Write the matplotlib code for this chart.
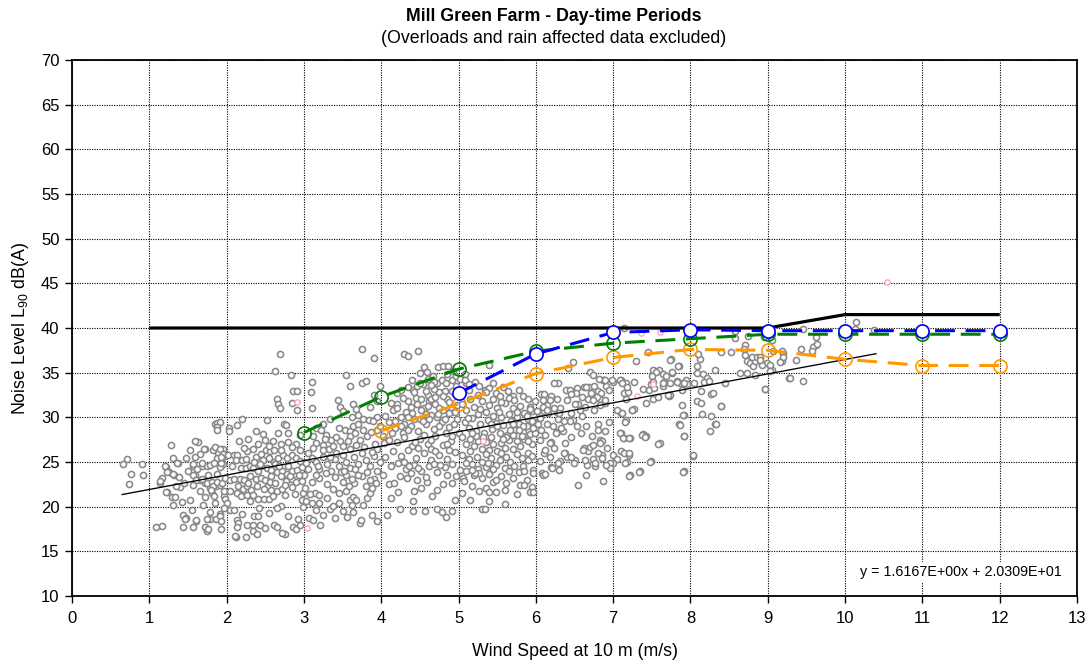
import matplotlib
matplotlib.use("Agg")
import matplotlib.pyplot as plt
import numpy as np

plt.rcParams["font.family"] = ["Liberation Sans", "DejaVu Sans"]
plt.rcParams["mathtext.fontset"] = "custom"
plt.rcParams["mathtext.rm"] = "Liberation Sans"
plt.rcParams["mathtext.it"] = "Liberation Sans:italic"

pts_0_2 = [
    (0.66, 24.8), (0.71, 25.3), (0.76, 23.7), (0.91, 24.8), (0.92, 23.5), (0.74, 22.5),
    (1.09, 17.7), (1.16, 17.8), (1.14, 22.7), (1.16, 23.2), (1.21, 24.4), (1.26, 23.9),
    (1.32, 23.5), (1.39, 23.3), (1.28, 26.9), (1.31, 25.5), (1.37, 24.9), (1.23, 21.6),
    (1.29, 21.1), (1.31, 20.2), (1.44, 19.1), (1.47, 18.7), (1.44, 17.7), (1.57, 17.7),
    (1.61, 18.4), (1.53, 26.3), (1.63, 27.2), (1.57, 24.6), (1.59, 23.6), (1.66, 23.0),
    (1.68, 24.5), (1.66, 25.9), (1.72, 26.5), (1.74, 24.5), (1.78, 24.7), (1.87, 26.5),
    (1.95, 26.5), (1.89, 26.0), (1.95, 25.6), (1.87, 25.4), (1.95, 24.8), (1.91, 24.4),
    (1.72, 22.6), (1.78, 22.1), (1.81, 21.5), (1.86, 22.3), (1.91, 22.4), (1.96, 21.2),
    (1.72, 17.7), (1.74, 17.3), (1.78, 19.4), (1.79, 18.6), (1.86, 18.6), (1.91, 19.2),
    (1.85, 29.3), (1.88, 29.4), (1.92, 29.5), (1.87, 28.9), (1.88, 28.6), (1.20, 24.5),
    (1.14, 22.9), (1.23, 23.9), (1.31, 23.7), (1.36, 24.9), (1.59, 27.3), (1.71, 26.5),
    (1.59, 25.6), (1.56, 24.8), (1.68, 24.9), (1.84, 24.9), (1.93, 24.9), (1.83, 26.3),
    (1.85, 26.7), (1.91, 26.5), (1.95, 25.9), (1.93, 25.6), (1.57, 23.5), (1.61, 23.0),
    (1.68, 23.1), (1.57, 22.4), (1.74, 22.7), (1.81, 22.8), (1.83, 22.3), (1.87, 22.8),
    (1.94, 22.6), (1.98, 23.2), (1.22, 21.6), (1.33, 21.1), (1.40, 22.2), (1.72, 21.1),
    (1.80, 21.9), (1.84, 21.2), (1.96, 21.7), (1.98, 20.9), (1.46, 18.6), (1.61, 18.5),
    (1.74, 18.6), (1.76, 17.5), (1.91, 19.0), (1.93, 18.4), (1.93, 17.5), (1.50, 24.0),
    (1.45, 22.6), (1.65, 21.8), (1.52, 20.8), (1.35, 22.3), (1.48, 25.4), (1.62, 24.2),
    (1.76, 23.6), (1.88, 23.7), (1.70, 20.2), (1.55, 19.6), (1.85, 20.4), (1.42, 20.5),
]
pts_2_3 = [
    (2.69, 37.1), (2.63, 35.2), (2.83, 34.7), (2.86, 33.0), (2.91, 33.0), (2.65, 32.0),
    (2.67, 31.5), (2.69, 31.0), (2.84, 31.6), (2.91, 30.8), (2.74, 29.3), (2.77, 29.1),
    (2.52, 29.7), (2.38, 28.5), (2.47, 28.1), (2.20, 29.8), (2.14, 29.1), (2.03, 28.8),
    (2.03, 28.5), (2.02, 25.8), (2.09, 25.8), (2.14, 25.8), (2.12, 25.2), (2.20, 25.2),
    (2.25, 25.3), (2.19, 24.3), (2.25, 24.3), (2.30, 24.5), (2.34, 24.3), (2.05, 23.0),
    (2.10, 23.1), (2.17, 23.1), (2.22, 23.0), (2.30, 23.4), (2.38, 23.1), (2.44, 23.2),
    (2.15, 22.3), (2.21, 22.0), (2.26, 22.3), (2.32, 21.9), (2.39, 22.3), (2.14, 21.5),
    (2.19, 21.2), (2.26, 21.3), (2.34, 21.3), (2.41, 20.9), (2.48, 20.9), (2.55, 20.9),
    (2.26, 26.2), (2.34, 26.4), (2.38, 25.6), (2.45, 25.9), (2.51, 26.3), (2.56, 26.2),
    (2.61, 26.3), (2.47, 25.2), (2.55, 25.5), (2.61, 25.0), (2.67, 25.4), (2.73, 25.8),
    (2.78, 25.5), (2.84, 25.8), (2.90, 25.5), (2.52, 24.3), (2.58, 24.1), (2.65, 23.9),
    (2.71, 24.0), (2.78, 23.7), (2.85, 24.0), (2.91, 24.1), (2.98, 24.4), (2.50, 23.0),
    (2.56, 22.8), (2.63, 22.7), (2.70, 23.4), (2.77, 22.9), (2.84, 23.1), (2.90, 22.8),
    (2.97, 22.9), (3.00, 23.5), (2.52, 22.2), (2.58, 21.9), (2.65, 21.8), (2.71, 22.0),
    (2.85, 22.2), (2.99, 21.5), (2.97, 20.7), (2.99, 20.0), (2.70, 20.1), (2.65, 19.8),
    (2.13, 18.5), (2.15, 18.2), (2.13, 17.7), (2.12, 16.6), (2.25, 16.6), (2.26, 17.9),
    (2.34, 17.9), (2.34, 17.3), (2.39, 16.9), (2.43, 17.9), (2.35, 19.0), (2.41, 19.0),
    (2.42, 19.8), (2.61, 18.0), (2.65, 17.7), (2.75, 16.9), (2.72, 17.1), (2.86, 17.7),
    (2.90, 17.5), (2.95, 17.9), (2.00, 20.4), (1.97, 19.8), (2.04, 19.6), (2.09, 19.6),
    (2.16, 27.3), (2.28, 27.6), (2.40, 27.0), (2.50, 27.5), (2.60, 27.4), (2.70, 27.0),
    (2.80, 27.2), (2.90, 27.0), (2.55, 26.8), (2.95, 26.3), (2.85, 26.7), (2.80, 28.3),
    (2.95, 28.0), (2.11, 16.7), (2.45, 24.6), (2.62, 24.8), (2.80, 24.6), (2.93, 23.5),
    (2.40, 24.0), (2.58, 23.4), (2.75, 22.4), (2.88, 21.4), (2.60, 21.2), (2.30, 20.6),
    (2.20, 19.2), (2.05, 21.8), (2.70, 26.3), (2.36, 25.0), (2.48, 22.0), (2.95, 25.1),
    (2.07, 24.6), (2.28, 22.7), (2.43, 24.8), (2.68, 24.6), (2.82, 23.4), (2.75, 21.3),
    (2.55, 19.3), (2.80, 19.0), (2.92, 18.6), (2.50, 17.6), (2.22, 26.6), (2.66, 28.3),
]
pts_3_4 = [
    (3.75, 37.6), (3.90, 36.6), (3.11, 34.0), (3.09, 32.8), (3.10, 31.0), (3.55, 34.7),
    (3.59, 33.5), (3.75, 33.8), (3.80, 34.1), (3.44, 31.9), (3.47, 31.2), (3.51, 30.7),
    (3.64, 31.5), (3.68, 30.9), (3.34, 29.8), (3.16, 28.8), (3.22, 28.6), (3.29, 28.0),
    (3.53, 28.6), (3.59, 28.5), (3.64, 29.0), (3.70, 29.2), (3.77, 29.8), (3.84, 29.7),
    (3.12, 27.9), (3.16, 27.1), (3.25, 26.9), (3.33, 26.4), (3.38, 26.8), (3.47, 27.3),
    (3.51, 26.8), (3.59, 27.9), (3.66, 28.2), (3.72, 27.5), (3.81, 27.9), (3.87, 28.4),
    (3.94, 28.6), (3.98, 29.0), (4.02, 27.9), (4.04, 27.1), (3.03, 24.9), (3.05, 24.2),
    (3.10, 22.8), (3.02, 22.1), (3.14, 21.5), (3.19, 21.3), (3.03, 20.6), (3.10, 20.4),
    (3.20, 20.4), (3.07, 18.7), (3.12, 18.5), (3.21, 17.9), (3.34, 19.7), (3.37, 20.1),
    (3.59, 20.7), (3.64, 21.1), (3.68, 20.8), (3.62, 20.2), (3.64, 19.4), (3.77, 20.2),
    (3.81, 21.0), (3.85, 21.5), (3.88, 22.1), (3.90, 23.1), (3.72, 18.2), (3.74, 18.5),
    (3.88, 19.1), (3.95, 18.4), (3.05, 26.0), (3.10, 25.5), (3.15, 25.0), (3.20, 24.2),
    (3.25, 25.6), (3.30, 24.8), (3.35, 24.0), (3.40, 25.3), (3.45, 24.5), (3.50, 25.8),
    (3.55, 25.0), (3.60, 24.3), (3.65, 25.6), (3.70, 24.8), (3.75, 26.0), (3.80, 25.2),
    (3.85, 24.5), (3.90, 25.7), (3.95, 26.4), (3.20, 23.2), (3.30, 22.5), (3.40, 23.3),
    (3.50, 22.8), (3.55, 23.6), (3.65, 22.6), (3.75, 23.4), (3.85, 23.0), (3.95, 24.0),
    (3.25, 26.3), (3.42, 26.0), (3.60, 26.5), (3.78, 26.7), (3.92, 27.0), (3.28, 23.8),
    (3.48, 23.9), (3.70, 23.5), (3.45, 21.5), (3.30, 21.0), (3.55, 21.8), (3.25, 19.1),
    (3.40, 18.7), (3.50, 19.5), (3.15, 23.5), (3.35, 27.5), (3.45, 28.8), (3.25, 29.3),
    (3.62, 30.0), (3.70, 30.3), (3.85, 31.2), (3.95, 30.0), (3.95, 31.8), (3.90, 32.5),
    (3.98, 33.5), (3.38, 22.0), (3.58, 22.3), (3.80, 22.3), (3.12, 26.6), (3.52, 24.0),
    (3.68, 26.9), (3.88, 26.1), (3.42, 27.8), (3.18, 24.6), (3.62, 23.1), (3.98, 25.0),
    (3.08, 21.4), (3.16, 19.6), (3.46, 20.4), (3.56, 18.8), (3.82, 23.9), (3.34, 25.6),
    (3.57, 27.3), (3.77, 28.6), (3.89, 29.6), (3.27, 27.6), (3.66, 24.2), (3.93, 22.6),
]
pts_4_5 = [
    (4.29, 37.1), (4.35, 36.9), (4.47, 37.4), (4.20, 32.7), (4.26, 33.1), (4.34, 33.4),
    (4.41, 33.1), (4.46, 33.5), (4.54, 33.7), (4.61, 34.3), (4.67, 34.6), (4.74, 35.6),
    (4.80, 35.8), (4.87, 35.8), (4.50, 35.0), (4.55, 35.6), (4.59, 35.1), (4.72, 33.8),
    (4.78, 34.2), (4.84, 33.8), (4.91, 34.2), (4.97, 33.5), (4.97, 34.6), (5.02, 34.3),
    (5.08, 34.8), (5.10, 33.8), (5.13, 33.1), (5.06, 32.7), (4.05, 30.2), (4.10, 29.5),
    (4.15, 30.8), (4.20, 31.5), (4.25, 30.0), (4.30, 29.2), (4.35, 31.8), (4.40, 30.5),
    (4.45, 32.2), (4.50, 29.8), (4.55, 31.0), (4.60, 32.5), (4.65, 30.3), (4.70, 31.5),
    (4.75, 32.8), (4.80, 30.8), (4.85, 32.0), (4.90, 31.2), (4.95, 32.6), (4.42, 32.8),
    (4.58, 33.0), (4.68, 33.2), (4.82, 33.0), (4.62, 31.8), (4.72, 30.0), (4.88, 30.5),
    (4.52, 30.8), (4.38, 31.2), (4.28, 32.2), (4.12, 31.6), (4.18, 28.8), (4.28, 28.2),
    (4.38, 29.0), (4.48, 28.5), (4.58, 29.2), (4.68, 28.7), (4.78, 29.5), (4.88, 28.9),
    (4.98, 29.8), (4.10, 27.5), (4.20, 27.2), (4.30, 27.8), (4.40, 26.8), (4.50, 27.6),
    (4.60, 27.0), (4.70, 27.9), (4.80, 26.9), (4.90, 27.4), (5.00, 28.2), (4.15, 26.2),
    (4.25, 25.7), (4.35, 26.3), (4.45, 25.4), (4.55, 26.0), (4.65, 25.2), (4.75, 25.8),
    (4.85, 25.3), (4.95, 26.1), (4.12, 24.6), (4.22, 24.9), (4.32, 24.2), (4.42, 24.7),
    (4.52, 24.0), (4.62, 24.5), (4.72, 23.9), (4.82, 24.4), (4.92, 24.8), (4.24, 23.4),
    (4.33, 23.2), (4.39, 23.8), (4.10, 22.5), (4.16, 22.6), (4.59, 22.8), (4.72, 21.9),
    (4.80, 22.5), (4.91, 22.6), (4.97, 23.4), (5.02, 24.1), (5.06, 23.2), (4.12, 21.0),
    (4.41, 20.6), (4.43, 21.7), (4.52, 22.1), (4.24, 19.7), (4.41, 19.5), (4.56, 19.5),
    (4.72, 19.7), (4.78, 19.4), (4.84, 18.8), (4.91, 19.5), (4.08, 19.1), (4.20, 31.0),
    (4.32, 30.6), (4.46, 31.5), (4.65, 32.0), (4.92, 33.0), (4.75, 31.0), (4.55, 28.0),
    (4.85, 27.0), (4.35, 28.6), (4.05, 25.6), (4.65, 26.5), (4.75, 29.0), (4.95, 30.6),
    (4.62, 29.8), (4.48, 26.6), (4.50, 33.8), (4.68, 34.0), (4.85, 34.8), (4.93, 35.2),
    (4.42, 29.8), (4.58, 30.4), (4.82, 29.8), (4.98, 31.4), (4.25, 29.0), (4.70, 26.2),
    (4.88, 26.3), (4.48, 24.3), (4.68, 24.8), (4.58, 23.3), (4.85, 23.5), (4.30, 25.0),
    (4.44, 27.2), (4.64, 27.5), (4.84, 28.2), (4.54, 29.6), (4.74, 30.4), (4.94, 29.2),
    (4.34, 30.0), (4.60, 31.3), (4.80, 32.4), (4.40, 34.2), (4.64, 33.6), (4.88, 31.7),
    (4.18, 29.6), (4.52, 32.0), (4.70, 32.3), (4.92, 27.9), (4.36, 24.6), (4.76, 24.7),
    (4.46, 23.0), (4.66, 21.2), (4.22, 21.6), (4.96, 20.7), (4.02, 23.6), (4.14, 28.3),
]
pts_5_6 = [
    (5.39, 35.9), (5.08, 34.2), (5.14, 33.7), (5.21, 34.0), (5.27, 33.5), (5.34, 33.1),
    (5.40, 33.3), (5.45, 33.8), (5.48, 32.7), (5.53, 32.4), (5.58, 33.4), (5.64, 32.9),
    (5.71, 32.4), (5.78, 33.1), (5.84, 32.4), (5.90, 32.0), (5.99, 31.8), (5.05, 31.5),
    (5.10, 30.8), (5.15, 32.0), (5.20, 31.2), (5.25, 30.4), (5.30, 31.8), (5.35, 30.6),
    (5.40, 31.4), (5.45, 30.2), (5.50, 31.0), (5.55, 30.0), (5.60, 31.6), (5.65, 30.4),
    (5.70, 31.1), (5.75, 30.0), (5.80, 31.3), (5.85, 30.5), (5.90, 29.8), (5.95, 30.7),
    (5.08, 29.5), (5.13, 28.8), (5.18, 29.9), (5.23, 28.5), (5.28, 29.3), (5.33, 28.2),
    (5.38, 29.7), (5.43, 28.7), (5.48, 29.4), (5.53, 28.3), (5.58, 29.1), (5.63, 28.0),
    (5.68, 29.6), (5.73, 28.6), (5.78, 29.2), (5.83, 28.4), (5.88, 29.0), (5.93, 28.1),
    (5.98, 29.5), (5.05, 27.8), (5.10, 27.0), (5.15, 27.6), (5.20, 26.8), (5.25, 27.4),
    (5.30, 26.5), (5.35, 27.2), (5.40, 26.3), (5.45, 27.0), (5.50, 26.2), (5.55, 27.1),
    (5.60, 26.6), (5.65, 27.5), (5.70, 26.4), (5.75, 27.3), (5.80, 26.8), (5.85, 27.6),
    (5.90, 26.0), (5.95, 27.0), (5.05, 25.8), (5.12, 25.3), (5.18, 24.8), (5.24, 25.6),
    (5.30, 25.0), (5.36, 24.4), (5.42, 25.5), (5.48, 24.7), (5.54, 25.2), (5.60, 24.3),
    (5.66, 25.0), (5.72, 24.5), (5.78, 23.9), (5.84, 24.6), (5.90, 25.2), (5.96, 24.1),
    (5.10, 24.0), (5.20, 23.5), (5.30, 23.2), (5.40, 23.7), (5.45, 22.8), (5.55, 23.4),
    (5.62, 22.6), (5.70, 23.2), (5.80, 22.4), (5.88, 23.0), (5.95, 22.2), (5.07, 22.9),
    (5.18, 22.3), (5.27, 21.8), (5.35, 22.1), (5.48, 21.6), (5.60, 21.9), (5.75, 21.4),
    (5.92, 21.6), (5.40, 20.6), (5.60, 20.3), (5.30, 19.7), (5.15, 20.8), (5.05, 21.5),
    (5.12, 29.9), (5.25, 32.5), (5.45, 32.0), (5.65, 32.2), (5.35, 32.8), (5.55, 31.7),
    (5.72, 31.9), (5.92, 31.2), (5.50, 29.0), (5.70, 28.0), (5.22, 27.9), (5.42, 27.8),
    (5.62, 27.8), (5.82, 27.9), (5.99, 28.3), (5.15, 26.2), (5.35, 25.9), (5.55, 26.0),
    (5.75, 25.9), (5.95, 25.7), (5.25, 24.2), (5.45, 24.2), (5.65, 24.0), (5.85, 24.0),
    (5.49, 23.0), (5.40, 21.6), (5.34, 19.7), (5.27, 23.8), (5.21, 23.8), (5.17, 24.1),
    (5.14, 25.3), (5.10, 24.9), (5.96, 23.8), (5.96, 21.6), (5.85, 22.4), (5.92, 30.9),
    (5.88, 30.1), (5.95, 29.6), (5.96, 28.8), (5.84, 29.0), (5.78, 28.6), (5.71, 29.2),
    (5.28, 30.9), (5.52, 30.6), (5.76, 30.6), (5.18, 28.2), (5.42, 29.2), (5.66, 28.6),
    (5.90, 27.4), (5.32, 27.8), (5.58, 27.6), (5.38, 24.9), (5.62, 25.6), (5.82, 25.4),
]
pts_6_7 = [
    (6.07, 32.6), (6.14, 32.2), (6.20, 32.4), (6.27, 32.0), (6.29, 33.8), (6.23, 33.8),
    (6.39, 33.1), (6.53, 33.3), (6.52, 32.7), (6.69, 33.4), (6.71, 32.7), (6.68, 32.0),
    (6.83, 32.0), (6.88, 34.2), (6.91, 33.5), (7.00, 34.0), (6.48, 36.2), (6.42, 35.5),
    (6.70, 35.1), (6.74, 34.7), (6.02, 30.7), (6.10, 30.7), (6.16, 30.5), (6.05, 29.9),
    (6.03, 29.2), (6.07, 28.6), (6.27, 30.6), (6.31, 31.0), (6.29, 29.8), (6.27, 28.4),
    (6.38, 27.1), (6.48, 29.7), (6.53, 29.0), (6.65, 29.0), (6.80, 29.3), (6.81, 28.6),
    (6.83, 27.5), (6.85, 27.3), (6.92, 26.6), (7.00, 25.8), (7.05, 25.3), (6.62, 26.6),
    (6.68, 26.2), (6.74, 25.3), (6.66, 24.7), (6.77, 24.5), (6.92, 24.7), (7.00, 24.9),
    (6.38, 26.0), (6.40, 25.6), (6.31, 25.1), (6.20, 24.4), (6.30, 24.1), (6.20, 27.2),
    (6.10, 26.0), (6.05, 25.1), (6.08, 23.8), (6.09, 23.5), (6.12, 28.0), (6.22, 29.0),
    (6.35, 28.5), (6.45, 30.5), (6.55, 31.5), (6.60, 30.2), (6.75, 30.8), (6.90, 31.6),
    (6.45, 27.8), (6.58, 28.2), (6.72, 27.9), (6.90, 28.5), (6.50, 25.2), (6.85, 25.8),
    (6.95, 29.5), (6.40, 31.9), (6.15, 31.4), (6.60, 32.3), (6.80, 33.0), (6.87, 34.2),
    (6.98, 34.2), (6.94, 33.1), (6.90, 31.9), (6.83, 31.4), (6.70, 26.7), (6.74, 26.9),
    (6.61, 26.3), (6.64, 25.2), (6.77, 24.9), (6.85, 25.4), (6.81, 26.0), (6.83, 27.1),
    (6.49, 24.9), (6.46, 25.6), (6.36, 26.0), (6.29, 24.9), (6.21, 24.3), (6.12, 23.7),
    (6.18, 27.1), (6.12, 26.3), (6.14, 29.3), (6.33, 28.8), (6.26, 28.2), (6.05, 27.5),
    (6.10, 32.6), (6.09, 31.9), (6.18, 31.9), (6.09, 31.2), (6.15, 30.8), (6.24, 31.0),
    (6.30, 30.5), (6.44, 33.1), (6.46, 32.6), (6.62, 33.4), (6.65, 33.4), (6.75, 33.5),
    (6.82, 34.3), (6.90, 34.2), (6.84, 32.7), (6.79, 32.3), (6.74, 31.9), (6.64, 31.2),
    (6.57, 30.8), (6.50, 31.5), (6.44, 29.6), (6.96, 24.9), (6.96, 24.3), (6.91, 24.7),
    (6.87, 22.9), (6.55, 22.4), (6.65, 23.6), (6.18, 25.6), (6.24, 26.6), (6.36, 29.6),
]
pts_7_plus = [
    (7.14, 40.0), (7.45, 37.3), (7.30, 36.3), (7.75, 36.5), (7.85, 35.7), (7.51, 35.3),
    (7.59, 35.3), (7.65, 34.8), (7.76, 35.0), (7.10, 34.2), (7.16, 33.8), (7.27, 34.0),
    (7.14, 32.7), (7.19, 32.8), (7.16, 32.0), (7.38, 33.2), (7.46, 33.1), (7.49, 33.7),
    (7.53, 33.3), (7.66, 34.0), (7.65, 33.5), (7.74, 33.8), (7.83, 34.1), (7.87, 33.8),
    (7.94, 34.2), (7.95, 33.7), (7.89, 33.1), (7.72, 32.4), (7.74, 32.5), (7.42, 31.6),
    (7.51, 32.0), (7.25, 30.8), (7.27, 30.9), (7.16, 29.7), (7.10, 30.5), (7.89, 31.4),
    (7.91, 30.3), (7.85, 29.2), (7.91, 27.9), (7.10, 28.2), (7.14, 27.7), (7.22, 27.7),
    (7.38, 28.1), (7.42, 27.9), (7.60, 27.1), (7.10, 26.2), (7.14, 26.0), (7.21, 25.8),
    (7.18, 25.0), (7.49, 25.1), (7.22, 23.5), (7.35, 24.0), (7.91, 24.0), (8.03, 25.7),
    (7.09, 34.2), (7.11, 33.8), (7.18, 33.4), (7.05, 30.8), (7.11, 30.5), (7.24, 30.8),
    (7.15, 29.5), (7.09, 28.2), (7.13, 27.7), (7.37, 28.0), (7.41, 27.8), (7.58, 27.0),
    (7.20, 27.7), (7.20, 26.0), (7.15, 24.9), (7.21, 23.4), (7.33, 23.9), (7.48, 25.0),
    (7.74, 36.4), (7.84, 35.7), (7.69, 34.6), (7.76, 35.1), (7.56, 35.1), (7.50, 34.6),
    (7.52, 34.0), (7.65, 33.8), (7.71, 32.5), (7.82, 34.0), (7.91, 33.8), (7.58, 32.3),
    (8.12, 36.5), (8.09, 35.7), (8.09, 35.0), (8.16, 34.8), (8.22, 34.4), (8.17, 33.9),
    (8.24, 34.1), (8.32, 35.3), (8.05, 33.8), (8.13, 32.9), (8.26, 32.6), (8.29, 32.7),
    (8.45, 33.8), (8.09, 31.8), (8.14, 31.6), (8.15, 30.4), (8.27, 30.1), (8.32, 29.3),
    (8.25, 28.5), (8.39, 31.3), (8.39, 37.3), (8.52, 37.3), (8.58, 39.7), (8.57, 38.9),
    (8.75, 39.1), (8.70, 38.1), (8.69, 37.6), (8.71, 37.0), (8.73, 36.3), (8.77, 36.1),
    (8.81, 35.7), (8.84, 36.3), (8.80, 36.8), (8.86, 36.8), (8.90, 36.8), (8.92, 36.0),
    (8.99, 36.1), (8.64, 35.0), (8.73, 35.0), (8.84, 34.7), (8.97, 33.2), (9.05, 35.3),
    (9.07, 37.4), (9.18, 36.3), (9.20, 37.2), (9.20, 36.8), (9.27, 34.4), (8.10, 37.1),
    (8.33, 29.3), (8.40, 31.3), (7.92, 27.9), (7.86, 29.1), (7.90, 30.3), (8.03, 25.8),
    (7.90, 23.9), (9.45, 39.9), (9.63, 39.0), (9.62, 38.1), (9.59, 37.9), (9.64, 38.2),
    (9.57, 37.4), (9.43, 37.6), (9.37, 36.4), (9.29, 34.4), (9.45, 34.1), (9.19, 37.4),
    (9.16, 36.2), (9.05, 38.7), (9.03, 35.9), (8.93, 35.9), (8.90, 36.4), (9.03, 35.2),
    (8.97, 33.2), (8.95, 39.0), (10.14, 40.7), (10.13, 39.9), (10.38, 39.8),
]
# a handful of points plotted in pink in the original
pts_pink = [(2.91, 31.7), (3.04, 17.6), (5.32, 27.3), (7.36, 39.4), (7.61, 39.5),
            (7.51, 33.7), (7.31, 32.4), (10.54, 45.1)]

# ---- criteria / limit curves ----
limit_ws = [1, 2, 3, 4, 5, 6, 7, 8, 9, 10, 11, 12]
limit_db = [40, 40, 40, 40, 40, 40, 40, 40, 40, 41.5, 41.5, 41.5]

blue_ws = [5, 6, 7, 8, 9, 10, 11, 12]
blue_db = [32.7, 37.1, 39.5, 39.8, 39.7, 39.7, 39.7, 39.7]

green_ws = [3, 4, 5, 6, 7, 8, 9, 10, 11, 12]
green_db = [28.3, 32.3, 35.4, 37.4, 38.3, 38.8, 39.3, 39.3, 39.3, 39.3]

orange_ws = [4, 5, 6, 7, 8, 9, 10, 11, 12]
orange_db = [28.5, 31.5, 34.9, 36.7, 37.6, 37.5, 36.5, 35.8, 35.8]

# best-fit line as printed on the chart
fit_slope = 1.6167
fit_intercept = 20.309
fit_range = (0.65, 10.4)

pts = np.array(pts_0_2 + pts_2_3 + pts_3_4 + pts_4_5 + pts_5_6 + pts_6_7 + pts_7_plus)
pink = np.array(pts_pink)

fig = plt.figure(figsize=(10.9, 6.64), dpi=100)
ax = fig.add_axes([72 / 1090, 1 - 596 / 664, (1077 - 72) / 1090, (596 - 60) / 664])

ax.plot(pts[:, 0], pts[:, 1], "o", ms=4.4, mfc="white", mec="#8a8789", mew=1.15,
        ls="none", zorder=3)
ax.plot(pink[:, 0], pink[:, 1], "o", ms=3.8, mfc="white", mec="#ff99cc", mew=0.9,
        ls="none", zorder=3)

fx = np.array(fit_range)
ax.plot(fx, fit_slope * fx + fit_intercept, color="black", lw=0.95, zorder=4)

ax.plot(limit_ws, limit_db, color="black", lw=2.3, zorder=5, solid_capstyle="butt")
ax.plot(orange_ws, orange_db, color="#ff9900", lw=2.2, dashes=(6.5, 3.5), marker="o",
        ms=9.5, mfc="none", mec="#ff9900", mew=1.2, zorder=6)
ax.plot(green_ws, green_db, color="#008000", lw=2.2, dashes=(6.5, 3.5), marker="o",
        ms=9.5, mfc="none", mec="#008000", mew=1.2, zorder=7)
ax.plot(blue_ws, blue_db, color="#0000ff", lw=2.2, dashes=(6.5, 3.5), marker="o",
        ms=9.5, mfc="white", mec="#0000ff", mew=1.2, zorder=8)

ax.set_xlim(0, 13)
ax.set_ylim(10, 70)
ax.set_xticks(range(0, 14))
ax.set_yticks(range(10, 71, 5))
ax.grid(True, color="black", lw=0.8, linestyle=(0, (1, 1.2)), zorder=0)
ax.set_axisbelow(True)
for s in ax.spines.values():
    s.set_linewidth(1.3)
    s.set_color("black")
ax.tick_params(direction="out", length=5, width=1, labelsize=12, pad=4)
ax.tick_params(axis="x", pad=6)

ax.set_xlabel("Wind Speed at 10 m (m/s)", fontsize=12.8, labelpad=12)
ax.set_ylabel("Noise Level L$_{90}$ dB(A)", fontsize=12.8, labelpad=7)

ax.text(0.985, 0.045, "y = 1.6167E+00x + 2.0309E+01", transform=ax.transAxes,
        ha="right", va="center", fontsize=10.3, zorder=10,
        bbox=dict(facecolor="white", edgecolor="none", pad=2))

fig.text(0.508, 0.975, "Mill Green Farm - Day-time Periods", ha="center", va="center",
         fontsize=12.8, fontweight="bold")
fig.text(0.508, 0.942, "(Overloads and rain affected data excluded)", ha="center",
         va="center", fontsize=12.8)

fig.savefig("out.png", dpi=100)
